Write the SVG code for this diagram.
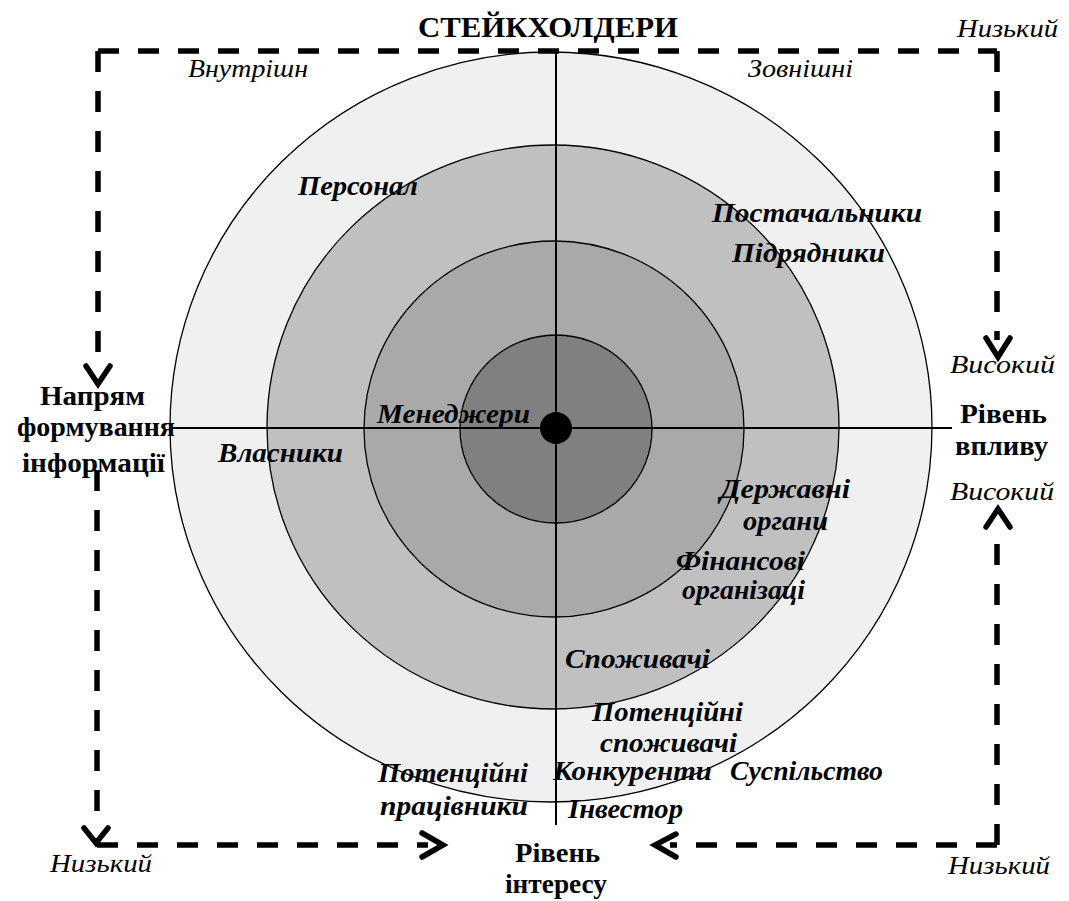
<svg xmlns="http://www.w3.org/2000/svg" width="1069" height="901" viewBox="0 0 1069 901">
<style>
.ring{stroke:#000;stroke-width:1.3}
.axis{stroke:#000;stroke-width:2;fill:none}
.dash{stroke:#000;stroke-width:5.5;fill:none;stroke-dasharray:21 19}
.head{stroke:#000;stroke-width:5.5;fill:none;stroke-linecap:round;stroke-linejoin:miter}
text{font-family:"Liberation Serif","DejaVu Serif",serif;fill:#000}
.t{font-weight:bold;font-size:29px}
.h{font-weight:bold;font-size:27px}
.i{font-style:italic;font-size:26px}
.l{font-style:italic;font-weight:bold;font-size:27px}
</style>
<g id="rings">
<ellipse class="ring" cx="551" cy="427" rx="381" ry="375" fill="#f0f0f0"/>
<ellipse class="ring" cx="553" cy="427" rx="286" ry="282" fill="#c0c0c0"/>
<ellipse class="ring" cx="554" cy="429" rx="190" ry="188" fill="#a9a9a9"/>
<ellipse class="ring" cx="556" cy="429" rx="96" ry="94" fill="#808080"/>
</g>
<g id="axes">
<line class="axis" x1="556" y1="52" x2="556" y2="825"/>
<line class="axis" x1="170" y1="428" x2="952" y2="428"/>
<circle cx="556" cy="428" r="16" fill="#000"/>
</g>
<g id="connectors">
<path class="dash" d="M98,51 L98,368"/>
<path class="dash" d="M98,51 L997,51"/>
<path class="dash" d="M997,51 L997,340"/>
<path class="dash" d="M97,470 L97,826"/>
<path class="dash" d="M97,845 L428,845"/>
<path class="dash" d="M997,845 L670,845"/>
<path class="dash" d="M997,845 L997,527"/>
<polyline class="head" points="86,366 98,384 110,366"/>
<polyline class="head" points="986,338 998,357 1010,338"/>
<polyline class="head" points="84,828 96,843 108,828"/>
<polyline class="head" points="422,833 443,845 422,857"/>
<polyline class="head" points="676,834 655,845 676,857"/>
<polyline class="head" points="986,527 998,509 1010,527"/>
</g>
<g id="title"><text class="t" x="418" y="37" textLength="260" lengthAdjust="spacingAndGlyphs">СТЕЙКХОЛДЕРИ</text></g>
<g id="scale-labels">
<text class="i" x="957" y="37" textLength="101" lengthAdjust="spacingAndGlyphs">Низький</text>
<text class="i" x="950" y="373" textLength="105" lengthAdjust="spacingAndGlyphs">Високий</text>
<text class="i" x="950" y="500" textLength="104" lengthAdjust="spacingAndGlyphs">Високий</text>
<text class="i" x="50" y="872" textLength="102" lengthAdjust="spacingAndGlyphs">Низький</text>
<text class="i" x="948" y="874" textLength="102" lengthAdjust="spacingAndGlyphs">Низький</text>
<text class="i" x="188" y="77" textLength="120" lengthAdjust="spacingAndGlyphs">Внутрішн</text>
<text class="i" x="748" y="77" textLength="105" lengthAdjust="spacingAndGlyphs">Зовнішні</text>
</g>
<g id="axis-titles">
<text class="h" x="960" y="423" textLength="87" lengthAdjust="spacingAndGlyphs">Рівень</text>
<text class="h" x="955" y="455" textLength="93" lengthAdjust="spacingAndGlyphs">впливу</text>
<text class="h" x="40" y="405" textLength="105" lengthAdjust="spacingAndGlyphs">Напрям</text>
<text class="h" x="17" y="436" textLength="158" lengthAdjust="spacingAndGlyphs">формування</text>
<text class="h" x="22" y="472" textLength="143" lengthAdjust="spacingAndGlyphs">інформації</text>
<text class="h" x="515" y="862" textLength="85" lengthAdjust="spacingAndGlyphs">Рівень</text>
<text class="h" x="505" y="893" textLength="102" lengthAdjust="spacingAndGlyphs">інтересу</text>
</g>
<g id="stakeholders">
<text class="l" x="298" y="195" textLength="120" lengthAdjust="spacingAndGlyphs">Персонал</text>
<text class="l" x="712" y="222" textLength="210" lengthAdjust="spacingAndGlyphs">Постачальники</text>
<text class="l" x="732" y="262" textLength="153" lengthAdjust="spacingAndGlyphs">Підрядники</text>
<text class="l" x="377" y="423" textLength="153" lengthAdjust="spacingAndGlyphs">Менеджери</text>
<text class="l" x="218" y="462" textLength="125" lengthAdjust="spacingAndGlyphs">Власники</text>
<text class="l" x="720" y="498" textLength="130" lengthAdjust="spacingAndGlyphs">Державні</text>
<text class="l" x="743" y="530" textLength="85" lengthAdjust="spacingAndGlyphs">органи</text>
<text class="l" x="676" y="570" textLength="129" lengthAdjust="spacingAndGlyphs">Фінансові</text>
<text class="l" x="682" y="599" textLength="123" lengthAdjust="spacingAndGlyphs">організаці</text>
<text class="l" x="565" y="668" textLength="145" lengthAdjust="spacingAndGlyphs">Споживачі</text>
<text class="l" x="592" y="721" textLength="151" lengthAdjust="spacingAndGlyphs">Потенційні</text>
<text class="l" x="600" y="752" textLength="137" lengthAdjust="spacingAndGlyphs">споживачі</text>
<text class="l" x="553" y="780" textLength="159" lengthAdjust="spacingAndGlyphs">Конкуренти</text>
<text class="l" x="730" y="780" textLength="153" lengthAdjust="spacingAndGlyphs">Суспільство</text>
<text class="l" x="568" y="818" textLength="115" lengthAdjust="spacingAndGlyphs">Інвестор</text>
<text class="l" x="378" y="782" textLength="150" lengthAdjust="spacingAndGlyphs">Потенційні</text>
<text class="l" x="380" y="815" textLength="148" lengthAdjust="spacingAndGlyphs">працівники</text>
</g>
</svg>
